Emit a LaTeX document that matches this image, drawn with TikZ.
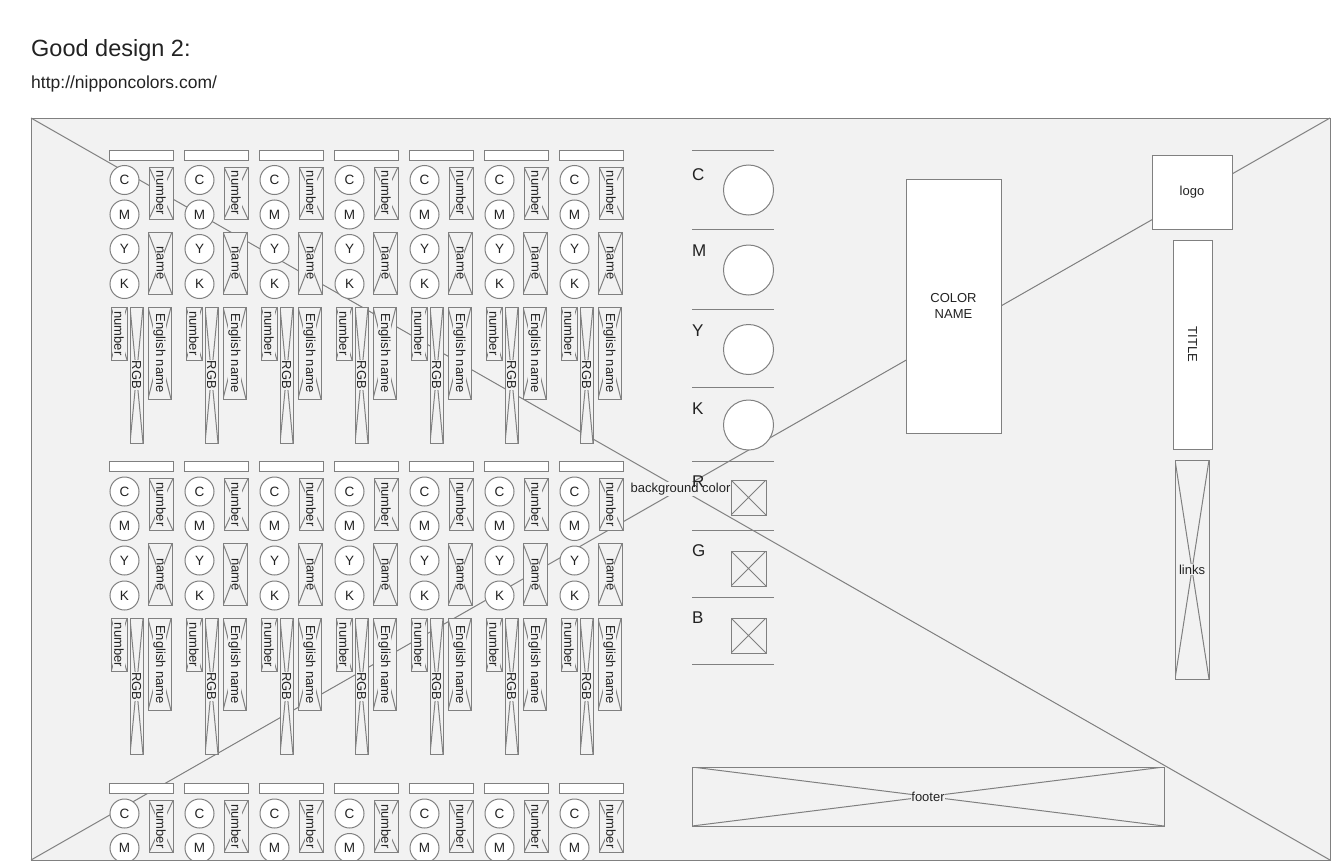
\documentclass[tikz,border=0pt]{standalone}
\usepackage{fontspec}
\setmainfont{Liberation Sans}
\definecolor{bgc}{HTML}{F2F2F2}
\definecolor{lnc}{HTML}{808080}
\definecolor{txc}{HTML}{222222}
\newcommand\fs[1]{\fontsize{#1}{#1}\selectfont}
\tikzset{
  stroke/.style={draw=lnc, line width=1pt},
  box/.style={stroke, fill=white, inner sep=0pt, outer sep=0pt, text=txc, font=\fs{13}},
  ph/.style={stroke, fill=bgc, inner sep=0pt, outer sep=0pt,
    path picture={\draw[lnc, line width=1pt]
      (path picture bounding box.north west) -- (path picture bounding box.south east)
      (path picture bounding box.south west) -- (path picture bounding box.north east);}},
  lab/.style={text=txc, font=\fs{13}, inner sep=0.8pt, fill=bgc},
  vlab/.style={lab, rotate=-90},
  circ/.style={circle, stroke, fill=white, minimum size=29pt, inner sep=0pt, text=txc, font=\fs{13.5}},
  bigcirc/.style={circle, stroke, fill=white, minimum size=50pt, inner sep=0pt},
  letter/.style={anchor=base west, inner sep=0pt, text=txc, font=\fs{17}},
  sep/.style={stroke},
}
\newcommand\mkcell[3]{%
  \node[box, minimum width=64pt, minimum height=10pt] (bar#3) at (#1+31,#2+5) {};
  \node[circ] (cc#3) at (#1+14.5,#2+30) {C};
  \node[circ] (cm#3) at (#1+14.5,#2+64.5) {M};
  \node[circ] (cy#3) at (#1+14.5,#2+99) {Y};
  \node[circ] (ck#3) at (#1+14.5,#2+134) {K};
  \node[ph, minimum width=24pt, minimum height=52pt] (nb#3) at (#1+51,#2+43) {};
  \node[vlab] (nbl#3) at (nb#3.center) {number};
  \node[ph, minimum width=24pt, minimum height=62pt] (nm#3) at (#1+50,#2+113) {};
  \node[vlab] (nml#3) at (nm#3.center) {name};
  \node[ph, minimum width=16pt, minimum height=53pt] (nn#3) at (#1+9,#2+183.5) {};
  \node[vlab] (nnl#3) at (nn#3.center) {number};
  \node[ph, minimum width=13pt, minimum height=136pt] (rgb#3) at (#1+26.5,#2+225) {};
  \node[vlab] (rgbl#3) at (rgb#3.center) {RGB};
  \node[ph, minimum width=23pt, minimum height=92pt] (en#3) at (#1+49.5,#2+203) {};
  \node[vlab] (enl#3) at (en#3.center) {English name};
}
\newcommand\mkshortcell[3]{%
  \node[box, minimum width=64pt, minimum height=10pt] (bar#3) at (#1+31,#2+5) {};
  \node[circ] (cc#3) at (#1+14.5,#2+30) {C};
  \node[circ] (cm#3) at (#1+14.5,#2+64.5) {M};
  \node[ph, minimum width=24pt, minimum height=52pt] (nb#3) at (#1+51,#2+43) {};
  \node[vlab] (nbl#3) at (nb#3.center) {number};
}
\begin{document}
\begin{tikzpicture}[x=1pt,y=-1pt]
\useasboundingbox (0,0) rectangle (1331,862);
% heading
\node[anchor=base west, inner sep=0pt, text=txc, font=\fs{23.5}] (title) at (31,56) {Good design 2:};
\node[anchor=base west, inner sep=0pt, text=txc, font=\fs{17.5}] (url) at (31,88.5) {http://nipponcolors.com/};
% background frame
\node[stroke, fill=bgc, minimum width=1299pt, minimum height=742pt, inner sep=0pt, outer sep=0pt] (bg) at (680.5,489) {};
\draw[stroke] (bg.north west) -- (bg.south east);
\draw[stroke] (bg.south west) -- (bg.north east);
\node[lab] (bgl) at (bg.center) {background color};
% cells
\foreach \i [evaluate=\i as \x using 110+75*\i] in {0,...,6} {
  \mkcell{\x}{150}{a\i}
  \mkcell{\x}{461.5}{b\i}
}
\begin{scope}
  \clip (bg.north west) rectangle (bg.south east);
  \foreach \i [evaluate=\i as \x using 110+75*\i] in {0,...,6} {
    \mkshortcell{\x}{783.5}{c\i}
  }
\end{scope}
\draw[stroke] (bg.north west) rectangle (bg.south east);
% right colour panel
\foreach \n/\yy in {s1/150,s2/229,s3/309,s4/387,s5/461.5,s6/530,s7/597,s8/664} {
  \coordinate (\n a) at (692,\yy);
  \coordinate (\n b) at (774,\yy);
  \draw[sep] (\n a) -- (\n b);
}
\node[letter] (lC) at (692,180) {C};
\node[letter] (lM) at (692,256.5) {M};
\node[letter] (lY) at (692,336.5) {Y};
\node[letter] (lK) at (692,414) {K};
\node[letter] (lR) at (692,487) {R};
\node[letter] (lG) at (692,556.5) {G};
\node[letter] (lB) at (692,623) {B};
\node[bigcirc] (oC) at (748.5,190) {};
\node[bigcirc] (oM) at (748.5,270) {};
\node[bigcirc] (oY) at (748.5,349.5) {};
\node[bigcirc] (oK) at (748.5,425) {};
\node[ph, minimum width=35pt, minimum height=35pt] (pR) at (748.5,497.5) {};
\node[ph, minimum width=35pt, minimum height=35pt] (pG) at (748.5,568.5) {};
\node[ph, minimum width=35pt, minimum height=35pt] (pB) at (748.5,635.5) {};
% colour name, logo, title, links, footer
\node[box, minimum width=95pt, minimum height=254pt, align=center, font=\fontsize{13}{16}\selectfont] (cname) at (953.5,306) {COLOR\\NAME};
\node[box, minimum width=80pt, minimum height=74pt] (logo) at (1192,192) {logo};
\node[box, minimum width=39pt, minimum height=209pt] (tbox) at (1192.5,344.5) {};
\node[rotate=-90, text=txc, font=\fs{13}, inner sep=0pt] (tlab) at (tbox.center) {TITLE};
\node[ph, minimum width=34pt, minimum height=219pt] (links) at (1192,569.5) {};
\node[lab] (linksl) at (links.center) {links};
\node[ph, minimum width=472pt, minimum height=59pt] (footer) at (928,796.5) {};
\node[lab] (footerl) at (footer.center) {footer};
\end{tikzpicture}
\end{document}
